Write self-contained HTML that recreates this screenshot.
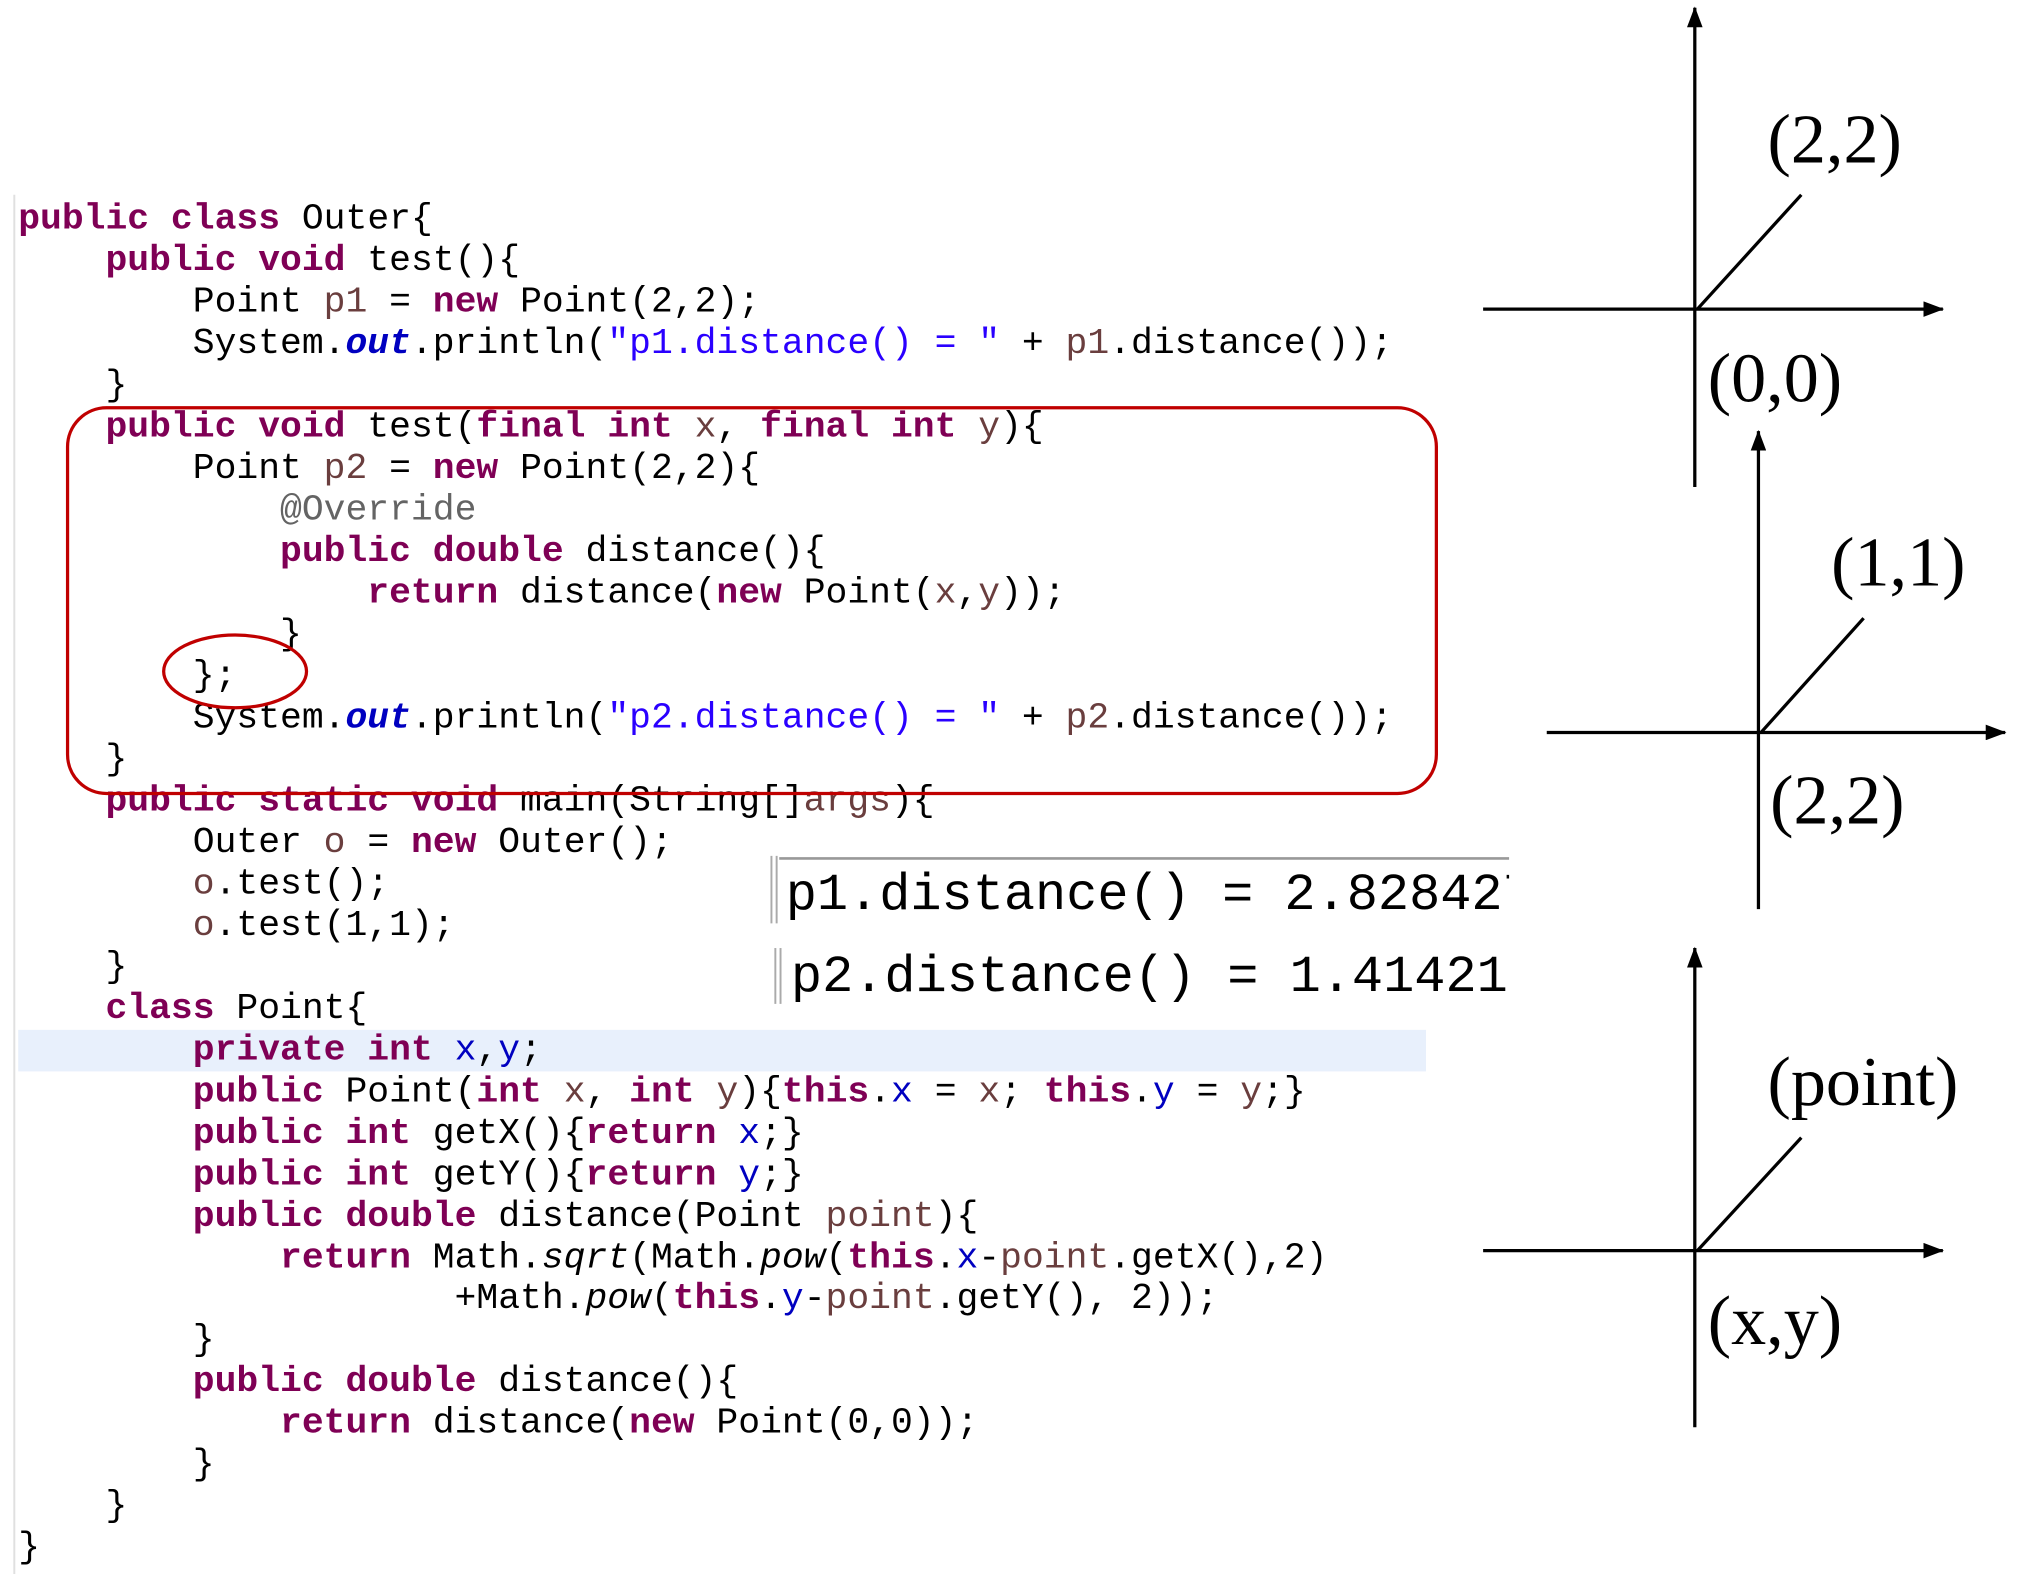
<!DOCTYPE html>
<html><head><meta charset="utf-8"><style>
html,body{margin:0;padding:0;background:#fff;}
svg{display:block}
.c{font-family:"Liberation Mono",monospace;font-size:28px;fill:#000;white-space:pre}
.k{fill:#7f0055;font-weight:bold}
.f{fill:#0000c0}
.o{fill:#0000c0;font-weight:bold;font-style:italic}
.s{fill:#2a00ff}
.v{fill:#6a3e3e}
.a{fill:#646464}
.i{font-style:italic}
.t{font-family:"Liberation Serif",serif;font-size:54px;fill:#000}
.r{font-family:"Liberation Mono",monospace;font-size:40px;fill:#000;white-space:pre}
</style></head><body>
<svg width="2026" height="1574" viewBox="0 0 1560 1212" xmlns="http://www.w3.org/2000/svg" xml:space="preserve">
<defs>
<marker id="ah" markerWidth="16" markerHeight="12" refX="15" refY="6" orient="auto" markerUnits="userSpaceOnUse"><path d="M0,0 L16,6 L0,12 z" fill="#000"/></marker>
<clipPath id="cc"><rect x="590" y="648" width="572" height="140"/></clipPath>
</defs>
<line x1="11" y1="150" x2="11" y2="1215" stroke="#e0e0e0" stroke-width="1.5"/>
<rect x="14" y="793" width="1084" height="32" fill="#e8f0fc"/>
<g class="c" transform="translate(0,-3)">
<text x="14" y="179"><tspan class="k">public class</tspan> Outer{</text>
<text x="81.2" y="211"><tspan class="k">public void</tspan> test(){</text>
<text x="148.4" y="243">Point <tspan class="v">p1</tspan> = <tspan class="k">new</tspan> Point(2,2);</text>
<text x="148.4" y="275">System.<tspan class="o">out</tspan>.println(<tspan class="s">"p1.distance() = "</tspan> + <tspan class="v">p1</tspan>.distance());</text>
<text x="81.2" y="307">}</text>
<text x="81.2" y="339"><tspan class="k">public void</tspan> test(<tspan class="k">final int</tspan> <tspan class="v">x</tspan>, <tspan class="k">final int</tspan> <tspan class="v">y</tspan>){</text>
<text x="148.4" y="371">Point <tspan class="v">p2</tspan> = <tspan class="k">new</tspan> Point(2,2){</text>
<text x="215.6" y="403"><tspan class="a">@Override</tspan></text>
<text x="215.6" y="435"><tspan class="k">public double</tspan> distance(){</text>
<text x="282.8" y="467"><tspan class="k">return</tspan> distance(<tspan class="k">new</tspan> Point(<tspan class="v">x</tspan>,<tspan class="v">y</tspan>));</text>
<text x="215.6" y="499">}</text>
<text x="148.4" y="531">};</text>
<text x="148.4" y="563">System.<tspan class="o">out</tspan>.println(<tspan class="s">"p2.distance() = "</tspan> + <tspan class="v">p2</tspan>.distance());</text>
<text x="81.2" y="595">}</text>
<text x="81.2" y="627"><tspan class="k">public static void</tspan> main(String[]<tspan class="v">args</tspan>){</text>
<text x="148.4" y="659">Outer <tspan class="v">o</tspan> = <tspan class="k">new</tspan> Outer();</text>
<text x="148.4" y="691"><tspan class="v">o</tspan>.test();</text>
<text x="148.4" y="723"><tspan class="v">o</tspan>.test(1,1);</text>
<text x="81.2" y="755">}</text>
<text x="81.2" y="787"><tspan class="k">class</tspan> Point{</text>
<text x="148.4" y="819"><tspan class="k">private int</tspan> <tspan class="f">x</tspan>,<tspan class="f">y</tspan>;</text>
<text x="148.4" y="851"><tspan class="k">public</tspan> Point(<tspan class="k">int</tspan> <tspan class="v">x</tspan>, <tspan class="k">int</tspan> <tspan class="v">y</tspan>){<tspan class="k">this</tspan>.<tspan class="f">x</tspan> = <tspan class="v">x</tspan>; <tspan class="k">this</tspan>.<tspan class="f">y</tspan> = <tspan class="v">y</tspan>;}</text>
<text x="148.4" y="883"><tspan class="k">public int</tspan> getX(){<tspan class="k">return</tspan> <tspan class="f">x</tspan>;}</text>
<text x="148.4" y="915"><tspan class="k">public int</tspan> getY(){<tspan class="k">return</tspan> <tspan class="f">y</tspan>;}</text>
<text x="148.4" y="947"><tspan class="k">public double</tspan> distance(Point <tspan class="v">point</tspan>){</text>
<text x="215.6" y="979"><tspan class="k">return</tspan> Math.<tspan class="i">sqrt</tspan>(Math.<tspan class="i">pow</tspan>(<tspan class="k">this</tspan>.<tspan class="f">x</tspan>-<tspan class="v">point</tspan>.getX(),2)</text>
<text x="350" y="1010">+Math.<tspan class="i">pow</tspan>(<tspan class="k">this</tspan>.<tspan class="f">y</tspan>-<tspan class="v">point</tspan>.getY(), 2));</text>
<text x="148.4" y="1042">}</text>
<text x="148.4" y="1074"><tspan class="k">public double</tspan> distance(){</text>
<text x="215.6" y="1106"><tspan class="k">return</tspan> distance(<tspan class="k">new</tspan> Point(0,0));</text>
<text x="148.4" y="1138">}</text>
<text x="81.2" y="1170">}</text>
<text x="14" y="1202">}</text>
</g>
<rect x="52" y="314" width="1054" height="297" rx="30" ry="30" fill="none" stroke="#c00000" stroke-width="2.5"/>
<ellipse cx="181" cy="517" rx="55" ry="28" fill="none" stroke="#c00000" stroke-width="2.5"/>
<g transform="translate(0,-3)">
<line x1="600" y1="664" x2="1162" y2="664" stroke="#999" stroke-width="2"/>
<line x1="594" y1="662" x2="594" y2="714" stroke="#aaa" stroke-width="1.5"/>
<line x1="598" y1="662" x2="598" y2="714" stroke="#aaa" stroke-width="1.5"/>
<line x1="597" y1="733" x2="597" y2="776" stroke="#aaa" stroke-width="1.5"/>
<line x1="601" y1="733" x2="601" y2="776" stroke="#aaa" stroke-width="1.5"/>
</g>
<g clip-path="url(#cc)">
<text class="r" x="605" y="700">p1.distance() = 2.828427</text>
<text class="r" x="609" y="763">p2.distance() = 1.41421</text>
</g>
<g transform="translate(-6,-2)">
<g stroke="#000" stroke-width="2.5">
<line x1="1311" y1="377" x2="1311" y2="8" marker-end="url(#ah)"/>
<line x1="1148" y1="240" x2="1502" y2="240" marker-end="url(#ah)"/>
<line x1="1313" y1="240" x2="1393" y2="152"/>
<line x1="1360" y1="702" x2="1360" y2="334" marker-end="url(#ah)"/>
<line x1="1197" y1="566" x2="1550" y2="566" marker-end="url(#ah)"/>
<line x1="1362" y1="566" x2="1441" y2="478"/>
<line x1="1311" y1="1101" x2="1311" y2="732" marker-end="url(#ah)"/>
<line x1="1148" y1="965" x2="1502" y2="965" marker-end="url(#ah)"/>
<line x1="1313" y1="965" x2="1393" y2="878"/>
</g>
<text class="t" x="1367" y="127">(2,2)</text>
<text class="t" x="1321" y="311">(0,0)</text>
<text class="t" x="1416" y="453">(1,1)</text>
<text class="t" x="1369" y="636">(2,2)</text>
<text class="t" x="1367" y="853">(point)</text>
<text class="t" x="1321" y="1037">(x,y)</text>
</g>
</svg>
</body></html>
